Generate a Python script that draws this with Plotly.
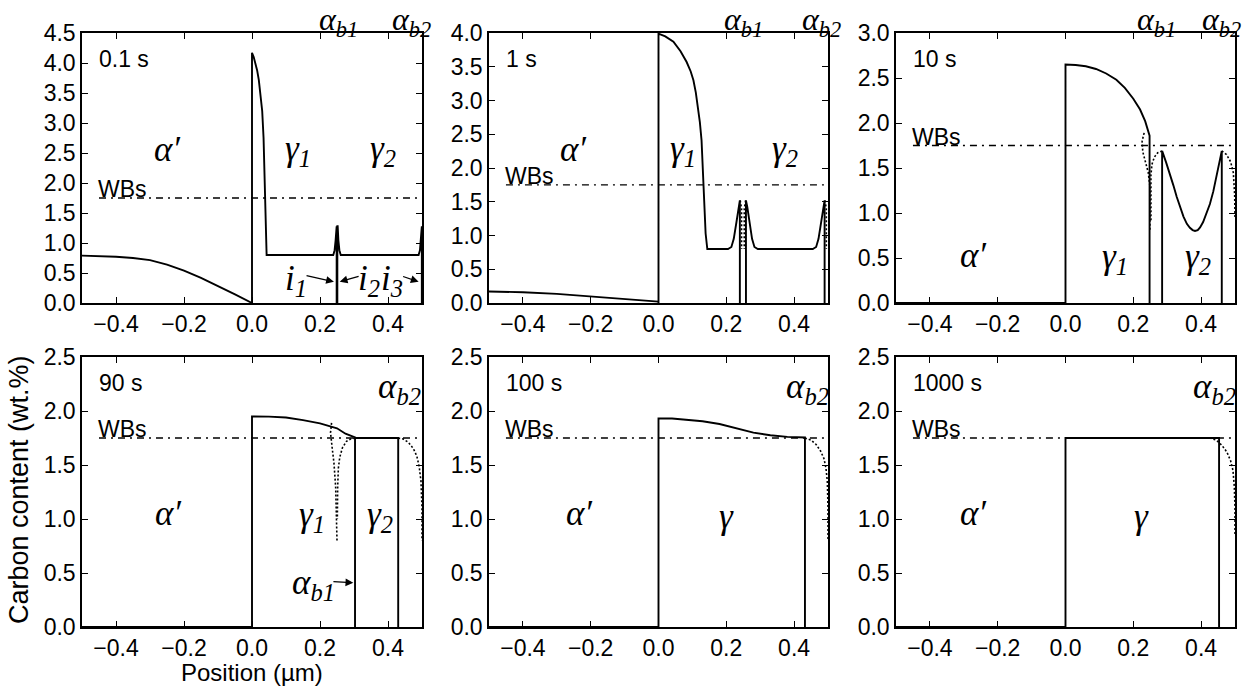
import plotly.graph_objects as go

# ---------------- data ----------------
x_ticks = [-0.4, -0.2, 0.0, 0.2, 0.4]
wbs_level = 1.75
wbs_x = [-0.45, 0.5]
time_labels = ["0.1 s", "1 s", "10 s", "90 s", "100 s", "1000 s"]
y_max = [4.5, 4.0, 3.0, 2.5, 2.5, 2.5]

# Panel A : 0.1 s
A_alpha_x = [-0.5, -0.45, -0.4, -0.35, -0.3, -0.25, -0.2, -0.15, -0.1, -0.05, 0.0]
A_alpha_y = [0.79, 0.785, 0.77, 0.75, 0.715, 0.64, 0.54, 0.42, 0.285, 0.145, 0.0]
A_g1_x = [0.0, 0.0, 0.005, 0.01, 0.015, 0.02, 0.025, 0.03, 0.034, 0.037, 0.039, 0.041, 0.043,
          0.239, 0.243, 0.246, 0.248, 0.249, 0.249]
A_g1_y = [0.0, 4.17, 4.1, 4.0, 3.88, 3.72, 3.5, 3.2, 2.75, 2.2, 1.7, 1.2, 0.8,
          0.8, 0.88, 1.05, 1.28, 1.28, 0.0]
A_g2_x = [0.251, 0.251, 0.252, 0.254, 0.257, 0.261, 0.49, 0.494, 0.497, 0.4995, 0.4995]
A_g2_y = [0.0, 1.28, 1.28, 1.05, 0.88, 0.8, 0.8, 0.88, 1.05, 1.28, 0.0]

# Panel B : 1 s
B_alpha_x = [-0.5, -0.4, -0.3, -0.2, -0.1, 0.0]
B_alpha_y = [0.17, 0.16, 0.135, 0.10, 0.06, 0.02]
B_g1_x = [0.0, 0.0, 0.02, 0.044, 0.065, 0.083, 0.095, 0.103, 0.11, 0.117, 0.122, 0.127, 0.132,
          0.135, 0.139, 0.144, 0.205, 0.215, 0.222, 0.23, 0.236, 0.240, 0.240]
B_g1_y = [0.0, 3.99, 3.95, 3.87, 3.73, 3.57, 3.43, 3.30, 3.12, 2.9, 2.68, 2.41, 1.91,
          1.52, 1.03, 0.8, 0.8, 0.83, 0.95, 1.2, 1.42, 1.52, 0.0]
B_g2_x = [0.258, 0.258, 0.262, 0.268, 0.276, 0.283, 0.293, 0.455, 0.465, 0.472, 0.48, 0.486, 0.490, 0.490]
B_g2_y = [0.0, 1.52, 1.42, 1.2, 0.95, 0.83, 0.8, 0.8, 0.83, 0.95, 1.2, 1.42, 1.52, 0.0]
B_dot1_x = [0.241, 0.245, 0.245]
B_dot1_y = [1.52, 1.4, 0.8]
B_dot2_x = [0.257, 0.253, 0.253]
B_dot2_y = [1.52, 1.4, 0.8]
B_dot3_x = [0.491, 0.495, 0.495]
B_dot3_y = [1.52, 1.4, 0.8]

# Panel C : 10 s
C_alpha_x = [-0.5, 0.0]
C_alpha_y = [0.0, 0.0]
C_g1_x = [0.0, 0.0, 0.03, 0.06, 0.09, 0.12, 0.15, 0.175, 0.2, 0.22, 0.235, 0.248, 0.248]
C_g1_y = [0.0, 2.65, 2.645, 2.63, 2.60, 2.55, 2.48, 2.39, 2.27, 2.15, 2.02, 1.86, 0.0]
C_g2_x = [0.285, 0.285, 0.297, 0.308, 0.318, 0.328, 0.338, 0.348, 0.358, 0.367, 0.375, 0.382,
          0.39, 0.397, 0.406, 0.416, 0.426, 0.436, 0.446, 0.455, 0.461, 0.461]
C_g2_y = [0.0, 1.69, 1.56, 1.44, 1.31, 1.18, 1.07, 0.96, 0.88, 0.835, 0.81, 0.80,
          0.81, 0.84, 0.90, 0.99, 1.10, 1.24, 1.41, 1.57, 1.69, 0.0]
C_dot1_x = [0.232, 0.226, 0.228, 0.236, 0.244, 0.249, 0.249]
C_dot1_y = [1.89, 1.8, 1.68, 1.55, 1.45, 1.3, 0.8]
C_dot2_x = [0.285, 0.272, 0.262, 0.255, 0.252, 0.252]
C_dot2_y = [1.69, 1.67, 1.62, 1.54, 1.42, 0.9]
C_dot3_x = [0.461, 0.475, 0.487, 0.495, 0.499, 0.5]
C_dot3_y = [1.69, 1.65, 1.57, 1.45, 1.2, 0.95]

# Panel D : 90 s
D_alpha_x = [-0.5, 0.0]
D_alpha_y = [0.0, 0.0]
D_g1_x = [0.0, 0.0, 0.05, 0.1, 0.15, 0.2, 0.25, 0.275, 0.303, 0.303]
D_g1_y = [0.0, 1.95, 1.948, 1.94, 1.915, 1.885, 1.84, 1.79, 1.755, 0.0]
D_g2_x = [0.303, 0.43, 0.43]
D_g2_y = [1.75, 1.75, 0.0]
D_dot1_x = [0.234, 0.231, 0.235, 0.241, 0.246, 0.249, 0.25]
D_dot1_y = [1.89, 1.80, 1.68, 1.52, 1.30, 1.05, 0.8]
D_dot2_x = [0.303, 0.29, 0.278, 0.266, 0.258, 0.254, 0.252, 0.251]
D_dot2_y = [1.75, 1.74, 1.72, 1.66, 1.57, 1.47, 1.3, 1.0]
D_dot3_x = [0.43, 0.445, 0.46, 0.475, 0.485, 0.492, 0.497, 0.5, 0.5]
D_dot3_y = [1.75, 1.74, 1.71, 1.65, 1.58, 1.48, 1.35, 1.1, 0.8]

# Panel E : 100 s
E_alpha_x = [-0.5, 0.0]
E_alpha_y = [0.0, 0.0]
E_g_x = [0.0, 0.0, 0.04, 0.08, 0.13, 0.18, 0.23, 0.28, 0.33, 0.38, 0.432, 0.432]
E_g_y = [0.0, 1.93, 1.93, 1.92, 1.905, 1.88, 1.84, 1.80, 1.775, 1.76, 1.755, 0.0]
E_dot_x = [0.432, 0.45, 0.465, 0.478, 0.488, 0.494, 0.498, 0.5, 0.5]
E_dot_y = [1.75, 1.73, 1.69, 1.63, 1.56, 1.47, 1.35, 1.1, 0.8]

# Panel F : 1000 s
F_alpha_x = [-0.5, 0.0]
F_alpha_y = [0.0, 0.0]
F_g_x = [0.0, 0.0, 0.453, 0.453]
F_g_y = [0.0, 1.75, 1.75, 0.0]
F_dot_x = [0.425, 0.445, 0.462, 0.476, 0.487, 0.494, 0.498, 0.5, 0.5]
F_dot_y = [1.75, 1.73, 1.68, 1.62, 1.54, 1.45, 1.3, 1.1, 0.85]

panels = [
    dict(solid=[(A_alpha_x, A_alpha_y), (A_g1_x, A_g1_y), (A_g2_x, A_g2_y)], dotted=[]),
    dict(solid=[(B_alpha_x, B_alpha_y), (B_g1_x, B_g1_y), (B_g2_x, B_g2_y)],
         dotted=[(B_dot1_x, B_dot1_y), (B_dot2_x, B_dot2_y), (B_dot3_x, B_dot3_y)]),
    dict(solid=[(C_alpha_x, C_alpha_y), (C_g1_x, C_g1_y), (C_g2_x, C_g2_y)],
         dotted=[(C_dot1_x, C_dot1_y), (C_dot2_x, C_dot2_y), (C_dot3_x, C_dot3_y)]),
    dict(solid=[(D_alpha_x, D_alpha_y), (D_g1_x, D_g1_y), (D_g2_x, D_g2_y)],
         dotted=[(D_dot1_x, D_dot1_y), (D_dot2_x, D_dot2_y), (D_dot3_x, D_dot3_y)]),
    dict(solid=[(E_alpha_x, E_alpha_y), (E_g_x, E_g_y)], dotted=[(E_dot_x, E_dot_y)]),
    dict(solid=[(F_alpha_x, F_alpha_y), (F_g_x, F_g_y)], dotted=[(F_dot_x, F_dot_y)]),
]

# ---------------- figure ----------------
W, H = 1252, 691
col_px = [(82, 422), (489, 828), (896, 1235)]   # screen pixels of the plot frames
row_px = [(33, 303), (357, 627)]

def fx(px):
    return px / W

def fy(py):
    return 1 - py / H

SANS = "Liberation Sans"
SERIF = "Liberation Serif"
tick_font = dict(family=SANS, size=23, color="black")
lab_font = dict(family=SANS, size=23, color="black")
greek_font = dict(family=SERIF, size=35, color="black", style="italic")
top_greek_font = dict(family=SERIF, size=32, color="black", style="italic")

fig = go.Figure()
layout = dict(width=W, height=H, margin=dict(l=0, r=0, t=0, b=0, pad=0),
              paper_bgcolor="white", plot_bgcolor="white", showlegend=False)
annotations = []

for i, p in enumerate(panels):
    r, c = divmod(i, 3)
    k = "" if i == 0 else str(i + 1)
    xa, ya = "x" + k, "y" + k
    x0, x1 = col_px[c]
    y0, y1 = row_px[r]
    layout["xaxis" + k] = dict(
        domain=[fx(x0), fx(x1)], anchor=ya, range=[-0.5, 0.5],
        tickvals=x_ticks, tickformat=".1f", ticks="inside", ticklen=6, tickwidth=1,
        tickcolor="black", showline=True, linecolor="black", linewidth=1.5,
        mirror="ticks", showgrid=False, zeroline=False, tickfont=tick_font, automargin=False)
    layout["yaxis" + k] = dict(
        domain=[fy(y1), fy(y0)], anchor=xa, range=[0, y_max[i]],
        dtick=0.5, tick0=0, tickformat=".1f", ticks="inside", ticklen=6, tickwidth=1,
        tickcolor="black", showline=True, linecolor="black", linewidth=1.5,
        mirror="ticks", showgrid=False, zeroline=False, tickfont=tick_font, automargin=False)
    for sx, sy in p["solid"]:
        fig.add_trace(go.Scatter(x=sx, y=sy, xaxis=xa, yaxis=ya, mode="lines",
                                 line=dict(color="black", width=1.9), hoverinfo="skip"))
    for dx, dy in p["dotted"]:
        fig.add_trace(go.Scatter(x=dx, y=dy, xaxis=xa, yaxis=ya, mode="lines",
                                 line=dict(color="black", width=1.6, dash="2px,2px"),
                                 hoverinfo="skip"))
    fig.add_trace(go.Scatter(x=wbs_x, y=[wbs_level, wbs_level], xaxis=xa, yaxis=ya, mode="lines",
                             line=dict(color="black", width=1.4, dash="7px,5px,2px,5px"),
                             hoverinfo="skip"))
    annotations.append(dict(text=time_labels[i], xref=xa + " domain", yref=ya + " domain",
                            x=0.045, y=0.905, xanchor="left", yanchor="middle",
                            showarrow=False, font=lab_font))
    annotations.append(dict(text="WBs", xref=xa, yref=ya, x=-0.46, y=wbs_level,
                            xanchor="left", yanchor="bottom", yshift=-6,
                            showarrow=False, font=lab_font))

def g(text, xa, ya, x, y, ydom=True, font=greek_font):
    annotations.append(dict(text=text, xref=xa, yref=(ya + " domain") if ydom else ya,
                            x=x, y=y, xanchor="center", yanchor="middle",
                            showarrow=False, font=font))

def top(text, xa, x):
    annotations.append(dict(text=text, xref=xa, yref="paper", x=x, y=1.0,
                            xanchor="center", yanchor="top", showarrow=False,
                            font=top_greek_font, borderpad=0))

AP = "α\u2032"
# Panel A
g(AP, "x", "y", -0.25, 0.57); g("γ<sub>1</sub>", "x", "y", 0.135, 0.565)
g("γ<sub>2</sub>", "x", "y", 0.385, 0.565)
top("α<sub>b1</sub>", "x", 0.254); top("α<sub>b2</sub>", "x", 0.47)
g("i<sub>1</sub>", "x", "y", 0.128, 0.38, False)
g("i<sub>2</sub>", "x", "y", 0.344, 0.38, False)
g("i<sub>3</sub>", "x", "y", 0.411, 0.38, False)
# Panel B
g(AP, "x2", "y2", -0.251, 0.57); g("γ<sub>1</sub>", "x2", "y2", 0.073, 0.565)
g("γ<sub>2</sub>", "x2", "y2", 0.373, 0.565)
top("α<sub>b1</sub>", "x2", 0.25); top("α<sub>b2</sub>", "x2", 0.48)
# Panel C
g(AP, "x3", "y3", -0.272, 0.175); g("γ<sub>1</sub>", "x3", "y3", 0.146, 0.165)
g("γ<sub>2</sub>", "x3", "y3", 0.392, 0.165)
top("α<sub>b1</sub>", "x3", 0.269); top("α<sub>b2</sub>", "x3", 0.46)
# Panel D
g(AP, "x4", "y4", -0.247, 0.42); g("γ<sub>1</sub>", "x4", "y4", 0.176, 0.41)
g("γ<sub>2</sub>", "x4", "y4", 0.376, 0.41)
g("α<sub>b2</sub>", "x4", "y4", 0.435, 0.885)
g("α<sub>b1</sub>", "x4", "y4", 0.18, 0.39, False)
# Panel E
g(AP, "x5", "y5", -0.232, 0.42); g("γ", "x5", "y5", 0.20, 0.41)
g("α<sub>b2</sub>", "x5", "y5", 0.44, 0.885)
# Panel F
g(AP, "x6", "y6", -0.272, 0.42); g("γ", "x6", "y6", 0.225, 0.41)
g("α<sub>b2</sub>", "x6", "y6", 0.44, 0.885)

def arrow(xa, ya, x, y, ax, ay):
    annotations.append(dict(text="", xref=xa, yref=ya, axref=xa, ayref=ya, x=x, y=y, ax=ax, ay=ay,
                            showarrow=True, arrowhead=2, arrowsize=1.2, arrowwidth=1.3,
                            arrowcolor="black"))

arrow("x", "y", 0.241, 0.355, 0.156, 0.46)
arrow("x", "y", 0.258, 0.355, 0.318, 0.45)
arrow("x", "y", 0.49, 0.355, 0.44, 0.45)
arrow("x4", "y4", 0.298, 0.41, 0.235, 0.42)

annotations.append(dict(text="Carbon content (wt.%)", xref="paper", yref="paper",
                        x=fx(19), y=fy(490), textangle=-90, showarrow=False,
                        xanchor="center", yanchor="middle",
                        font=dict(family=SANS, size=27, color="black")))
annotations.append(dict(text="Position (µm)", xref="paper", yref="paper",
                        x=fx(252), y=fy(672), showarrow=False,
                        xanchor="center", yanchor="middle",
                        font=dict(family=SANS, size=24, color="black")))

layout["annotations"] = annotations
fig.update_layout(**layout)
fig.write_html("out.html", config={"displayModeBar": False},
               post_script="document.body.style.margin='0px';document.body.style.overflow='hidden';")
